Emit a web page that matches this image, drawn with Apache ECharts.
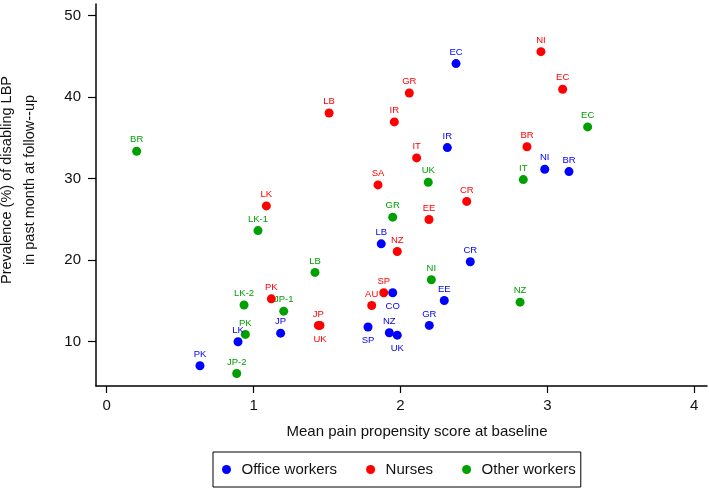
<!DOCTYPE html>
<html><head><meta charset="utf-8">
<script src="https://cdn.jsdelivr.net/npm/echarts@6/dist/echarts.min.js"></script>
<style>html,body{margin:0;padding:0;background:#fff}#c{width:709px;height:488px}</style>
</head><body><div id="c"></div>
<script>
// ---- data ----
const seriesNames = ['Office workers', 'Nurses', 'Other workers'];

const officeNames = ['PK','LK','JP','SP','LB','NZ','CO','UK','GR','EE','IR','EC','CR','NI','BR'];
const officeX = [0.635,0.894,1.184,1.779,1.869,1.924,1.947,1.978,2.196,2.298,2.319,2.378,2.475,2.982,3.147];
const officeY = [7.05,10.0,11.05,11.8,22.0,11.1,16.0,10.8,12.0,15.05,33.8,44.1,19.8,31.15,30.86];

const nurseNames = ['LK','PK','JP','UK','LB','AU','SA','SP','IR','NZ','GR','IT','EE','CR','BR','NI','EC'];
const nurseX = [1.087,1.121,1.441,1.452,1.514,1.804,1.847,1.886,1.958,1.978,2.060,2.110,2.194,2.451,2.861,2.956,3.104];
const nurseY = [26.65,15.26,12.0,12.0,38.05,14.44,29.23,16.0,36.95,21.06,40.5,32.54,24.98,27.2,33.9,45.57,40.95];

const otherNames = ['BR','JP-2','LK-2','PK','LK-1','JP-1','LB','GR','UK','NI','NZ','IT','EC'];
const otherX = [0.204,0.885,0.935,0.944,1.030,1.205,1.418,1.947,2.189,2.210,2.814,2.836,3.274];
const otherY = [33.36,6.1,14.5,10.9,23.63,13.75,18.5,25.27,29.56,17.6,14.85,29.88,36.34];

const xTicks = [0, 1, 2, 3, 4];
const yTicks = [10, 20, 30, 40, 50];

const xTitle = 'Mean pain propensity score at baseline';
const yTitle = 'Prevalence (%) of disabling LBP\nin past month at follow--up';

// ---- style ----
const colors = ['#0000ff', '#ff0000', '#00a000'];
const labelsBelow = [['CO','SP','UK'], ['UK'], []];
const baseFont = "'Liberation Sans', Arial, sans-serif";

function makeSeries(idx, names, xs, ys) {
  return {
    type: 'scatter',
    name: seriesNames[idx],
    symbol: 'circle',
    symbolSize: 9,
    itemStyle: { color: colors[idx], opacity: 1 },
    emphasis: { disabled: true },
    label: {
      show: true, position: 'top', distance: 2, formatter: '{b}',
      color: colors[idx], fontSize: 9.5, fontFamily: baseFont
    },
    data: names.map((n, i) => {
      const d = { name: n, value: [xs[i], ys[i]] };
      if (labelsBelow[idx].includes(n)) d.label = { position: 'bottom', distance: 4 };
      return d;
    })
  };
}

const chart = echarts.init(document.getElementById('c'), null, { renderer: 'canvas' });
chart.setOption({
  backgroundColor: '#fff',
  animation: false,
  grid: { left: 96, right: 2, top: 4, bottom: 102, containLabel: false, outerBoundsMode: 'none' },
  legend: {
    data: seriesNames, left: 213, top: 452, orient: 'horizontal',
    icon: 'circle', itemWidth: 20, itemHeight: 9, symbolKeepAspect: true, itemGap: 29,
    padding: [9, 5, 9, 9], borderColor: '#000', borderWidth: 1, backgroundColor: '#fff',
    textStyle: { fontSize: 15, color: '#111', fontFamily: baseFont, lineHeight: 17 }
  },
  xAxis: {
    type: 'value', min: -0.0728, max: 4.0865,
    axisLine: { show: true, onZero: false, lineStyle: { color: '#000', width: 1.5 } },
    axisTick: { show: true, length: 7, customValues: xTicks, lineStyle: { color: '#000', width: 1.2 } },
    axisLabel: { customValues: xTicks, fontSize: 15, color: '#111', margin: 12, fontFamily: baseFont },
    splitLine: { show: false },
    name: xTitle, nameLocation: 'middle', nameGap: 37,
    nameTextStyle: { fontSize: 15, color: '#111', lineHeight: 18, fontFamily: baseFont, padding: [0, 0, 0, 31] }
  },
  yAxis: {
    type: 'value', min: 4.57, max: 51.41,
    axisLine: { show: true, onZero: false, lineStyle: { color: '#000', width: 1.5 } },
    axisTick: { show: true, length: 8, customValues: yTicks, lineStyle: { color: '#000', width: 1.2 } },
    axisLabel: { customValues: yTicks, fontSize: 15, color: '#111', margin: 15, fontFamily: baseFont },
    splitLine: { show: false },
    name: yTitle, nameLocation: 'middle', nameRotate: 90, nameGap: 55,
    nameTextStyle: { fontSize: 14.5, color: '#111', lineHeight: 23, fontFamily: baseFont, padding: [0, 0, 0, 30] }
  },
  series: [
    makeSeries(0, officeNames, officeX, officeY),
    makeSeries(1, nurseNames, nurseX, nurseY),
    makeSeries(2, otherNames, otherX, otherY)
  ]
});
</script></body></html>
